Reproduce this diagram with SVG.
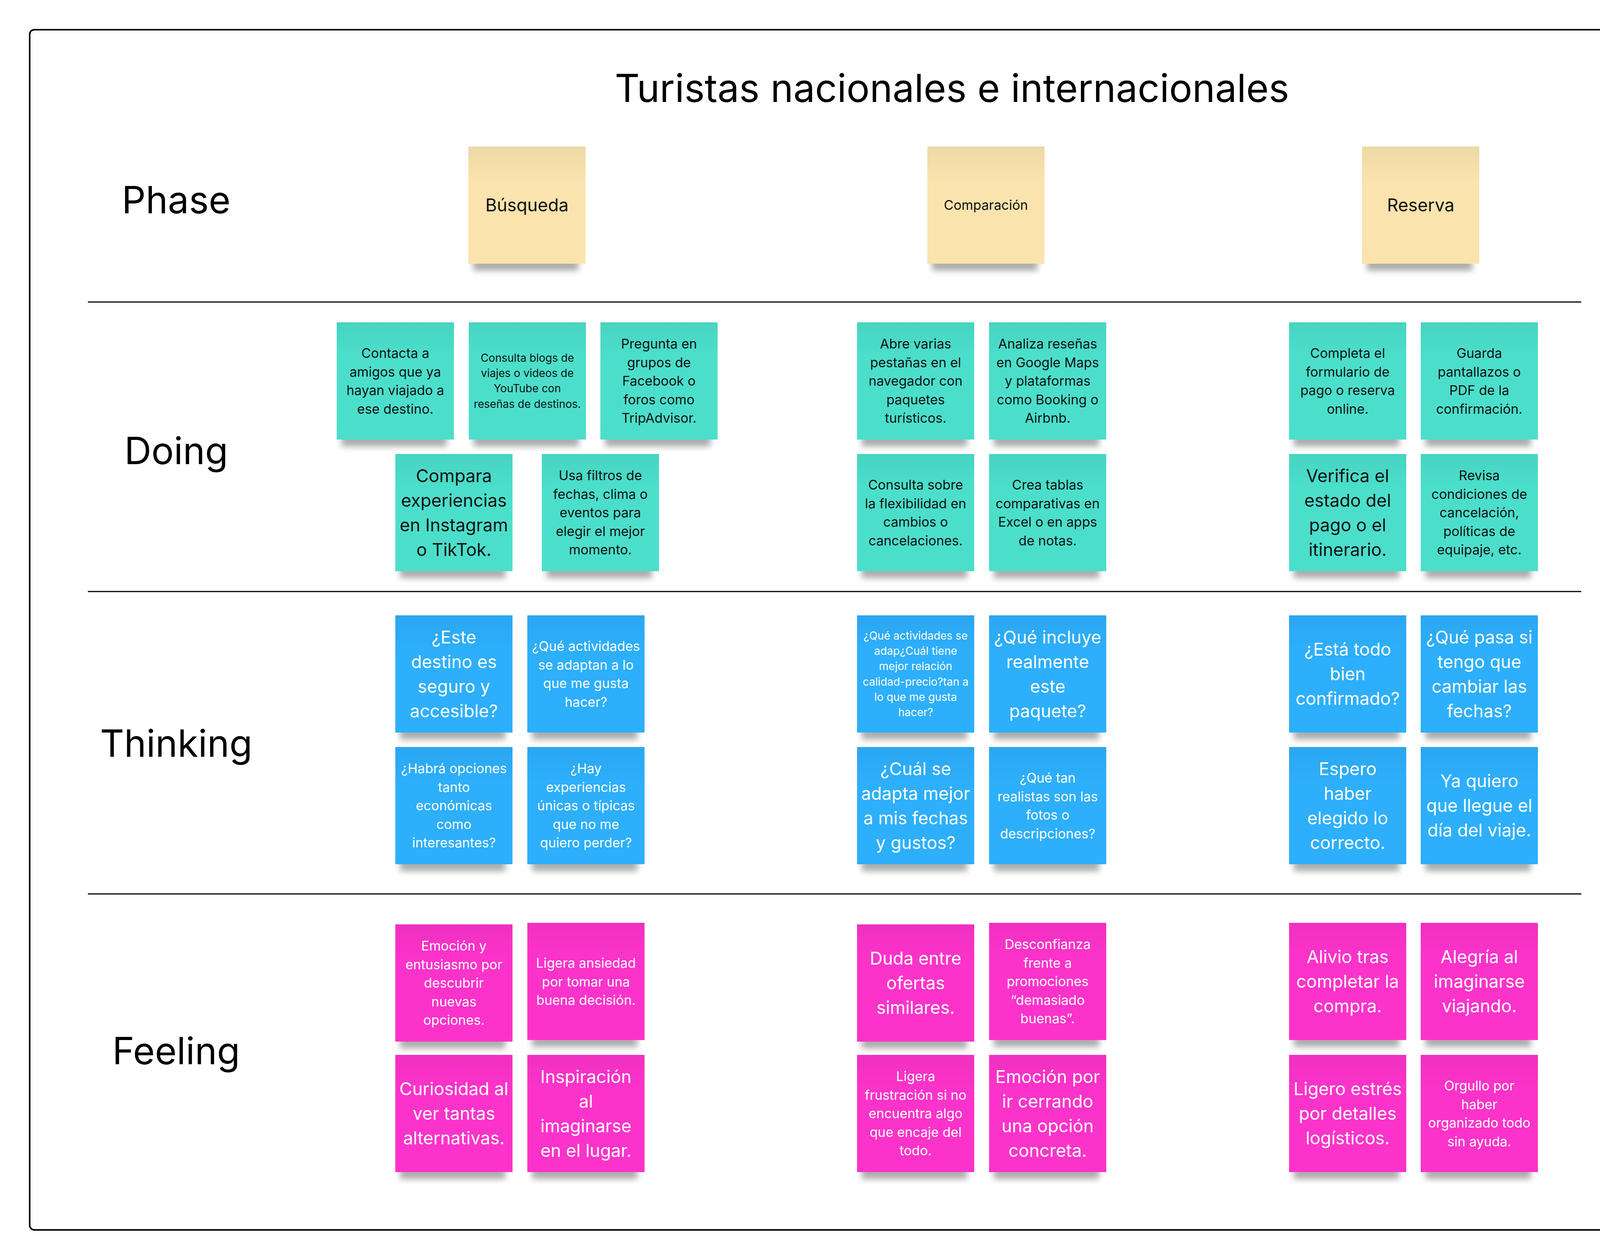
<svg xmlns="http://www.w3.org/2000/svg" width="4275" height="3225" viewBox="0 0 4275 3225">
<defs>
<filter id="sb" x="-20%" y="-100%" width="140%" height="300%"><feGaussianBlur stdDeviation="8"/></filter>
<linearGradient id="tint" x1="0" y1="0" x2="0" y2="1">
<stop offset="0" stop-color="#000" stop-opacity="0.05"/>
<stop offset="0.3" stop-color="#000" stop-opacity="0"/>
</linearGradient>
<style>
text{font-family:Inter,"Noto Sans","Liberation Sans",sans-serif;text-anchor:middle}
.frame{fill:#fff;stroke:#000;stroke-width:4}
.sep{stroke:#000;stroke-width:3}
.title{font-size:99px;fill:#000}
.lab{font-size:96px;fill:#000}
.sh{fill:#000;opacity:.32;filter:url(#sb)}
.tn{fill:url(#tint)}
.y{fill:#FAE3AD}
.t{fill:#4BDFCB}
.b{fill:#2DAFFC}
.p{fill:#FC33CA}
.k{fill:#111}
.w{fill:#fff}
.f45{font-size:45px}
.f34{font-size:34px}
.f28{font-size:28px}
</style>
</defs>
<rect class="frame" x="76" y="76" width="4122" height="3072" rx="12"/>
<text class="title" x="2437" y="261">Turistas nacionales e internacionales</text>
<g id="row-labels">
<text class="lab" x="451" y="546">Phase</text>
<text class="lab" x="451" y="1188">Doing</text>
<text class="lab" x="451" y="1937">Thinking</text>
<text class="lab" x="451" y="2724">Feeling</text>
</g>
<g id="connectors">
<line class="sep" x1="225" y1="773" x2="4048" y2="773"/>
<line class="sep" x1="225" y1="1514" x2="4048" y2="1514"/>
<line class="sep" x1="225" y1="2288" x2="4048" y2="2288"/>
</g>

<!-- Phase -->
<g id="phase-busqueda"><rect class="sh" x="1211" y="653" width="270" height="40"/><rect class="y" x="1199" y="375" width="300" height="300"/><rect class="tn" x="1199" y="375" width="300" height="300"/><text class="k f45" x="1349" y="541">Búsqueda</text></g>
<g id="phase-comparacion"><rect class="sh" x="2386" y="653" width="270" height="40"/><rect class="y" x="2374" y="375" width="300" height="300"/><rect class="tn" x="2374" y="375" width="300" height="300"/><text class="k f34" x="2524" y="537">Comparación</text></g>
<g id="phase-reserva"><rect class="sh" x="3499" y="653" width="270" height="40"/><rect class="y" x="3487" y="375" width="300" height="300"/><rect class="tn" x="3487" y="375" width="300" height="300"/><text class="k f45" x="3637" y="541">Reserva</text></g>

<!-- Doing -->
<g id="doing-1"><rect class="sh" x="874" y="1103" width="270" height="40"/><rect class="t" x="862" y="825" width="300" height="300"/><rect class="tn" x="862" y="825" width="300" height="300"/><text class="k f34" y="916"><tspan x="1012">Contacta a</tspan><tspan x="1012" dy="47.6">amigos que ya</tspan><tspan x="1012" dy="47.6">hayan viajado a</tspan><tspan x="1012" dy="47.6">ese destino.</tspan></text></g>
<g id="doing-2"><rect class="sh" x="1212" y="1103" width="270" height="40"/><rect class="t" x="1200" y="825" width="300" height="300"/><rect class="tn" x="1200" y="825" width="300" height="300"/><text class="k f28" y="926"><tspan x="1350">Consulta blogs de</tspan><tspan x="1350" dy="39.2">viajes o videos de</tspan><tspan x="1350" dy="39.2">YouTube con</tspan><tspan x="1350" dy="39.2">reseñas de destinos.</tspan></text></g>
<g id="doing-3"><rect class="sh" x="1549" y="1103" width="270" height="40"/><rect class="t" x="1537" y="825" width="300" height="300"/><rect class="tn" x="1537" y="825" width="300" height="300"/><text class="k f34" y="892"><tspan x="1687">Pregunta en</tspan><tspan x="1687" dy="47.6">grupos de</tspan><tspan x="1687" dy="47.6">Facebook o</tspan><tspan x="1687" dy="47.6">foros como</tspan><tspan x="1687" dy="47.6">TripAdvisor.</tspan></text></g>
<g id="doing-4"><rect class="sh" x="1024" y="1440" width="270" height="40"/><rect class="t" x="1012" y="1162" width="300" height="300"/><rect class="tn" x="1012" y="1162" width="300" height="300"/><text class="k f45" y="1234"><tspan x="1162">Compara</tspan><tspan x="1162" dy="63">experiencias</tspan><tspan x="1162" dy="63">en Instagram</tspan><tspan x="1162" dy="63">o TikTok.</tspan></text></g>
<g id="doing-5"><rect class="sh" x="1399" y="1440" width="270" height="40"/><rect class="t" x="1387" y="1162" width="300" height="300"/><rect class="tn" x="1387" y="1162" width="300" height="300"/><text class="k f34" y="1229"><tspan x="1537">Usa filtros de</tspan><tspan x="1537" dy="47.6">fechas, clima o</tspan><tspan x="1537" dy="47.6">eventos para</tspan><tspan x="1537" dy="47.6">elegir el mejor</tspan><tspan x="1537" dy="47.6">momento.</tspan></text></g>
<g id="doing-6"><rect class="sh" x="2206" y="1103" width="270" height="40"/><rect class="t" x="2194" y="825" width="300" height="300"/><rect class="tn" x="2194" y="825" width="300" height="300"/><text class="k f34" y="892"><tspan x="2344">Abre varias</tspan><tspan x="2344" dy="47.6">pestañas en el</tspan><tspan x="2344" dy="47.6">navegador con</tspan><tspan x="2344" dy="47.6">paquetes</tspan><tspan x="2344" dy="47.6">turísticos.</tspan></text></g>
<g id="doing-7"><rect class="sh" x="2544" y="1103" width="270" height="40"/><rect class="t" x="2532" y="825" width="300" height="300"/><rect class="tn" x="2532" y="825" width="300" height="300"/><text class="k f34" y="892"><tspan x="2682">Analiza reseñas</tspan><tspan x="2682" dy="47.6">en Google Maps</tspan><tspan x="2682" dy="47.6">y plataformas</tspan><tspan x="2682" dy="47.6">como Booking o</tspan><tspan x="2682" dy="47.6">Airbnb.</tspan></text></g>
<g id="doing-8"><rect class="sh" x="2206" y="1440" width="270" height="40"/><rect class="t" x="2194" y="1162" width="300" height="300"/><rect class="tn" x="2194" y="1162" width="300" height="300"/><text class="k f34" y="1253"><tspan x="2344">Consulta sobre</tspan><tspan x="2344" dy="47.6">la flexibilidad en</tspan><tspan x="2344" dy="47.6">cambios o</tspan><tspan x="2344" dy="47.6">cancelaciones.</tspan></text></g>
<g id="doing-9"><rect class="sh" x="2544" y="1440" width="270" height="40"/><rect class="t" x="2532" y="1162" width="300" height="300"/><rect class="tn" x="2532" y="1162" width="300" height="300"/><text class="k f34" y="1253"><tspan x="2682">Crea tablas</tspan><tspan x="2682" dy="47.6">comparativas en</tspan><tspan x="2682" dy="47.6">Excel o en apps</tspan><tspan x="2682" dy="47.6">de notas.</tspan></text></g>
<g id="doing-10"><rect class="sh" x="3312" y="1103" width="270" height="40"/><rect class="t" x="3300" y="825" width="300" height="300"/><rect class="tn" x="3300" y="825" width="300" height="300"/><text class="k f34" y="916"><tspan x="3450">Completa el</tspan><tspan x="3450" dy="47.6">formulario de</tspan><tspan x="3450" dy="47.6">pago o reserva</tspan><tspan x="3450" dy="47.6">online.</tspan></text></g>
<g id="doing-11"><rect class="sh" x="3649" y="1103" width="270" height="40"/><rect class="t" x="3637" y="825" width="300" height="300"/><rect class="tn" x="3637" y="825" width="300" height="300"/><text class="k f34" y="916"><tspan x="3787">Guarda</tspan><tspan x="3787" dy="47.6">pantallazos o</tspan><tspan x="3787" dy="47.6">PDF de la</tspan><tspan x="3787" dy="47.6">confirmación.</tspan></text></g>
<g id="doing-12"><rect class="sh" x="3312" y="1440" width="270" height="40"/><rect class="t" x="3300" y="1162" width="300" height="300"/><rect class="tn" x="3300" y="1162" width="300" height="300"/><text class="k f45" y="1234"><tspan x="3450">Verifica el</tspan><tspan x="3450" dy="63">estado del</tspan><tspan x="3450" dy="63">pago o el</tspan><tspan x="3450" dy="63">itinerario.</tspan></text></g>
<g id="doing-13"><rect class="sh" x="3649" y="1440" width="270" height="40"/><rect class="t" x="3637" y="1162" width="300" height="300"/><rect class="tn" x="3637" y="1162" width="300" height="300"/><text class="k f34" y="1229"><tspan x="3787">Revisa</tspan><tspan x="3787" dy="47.6">condiciones de</tspan><tspan x="3787" dy="47.6">cancelación,</tspan><tspan x="3787" dy="47.6">políticas de</tspan><tspan x="3787" dy="47.6">equipaje, etc.</tspan></text></g>

<!-- Thinking -->
<g id="thinking-1"><rect class="sh" x="1024" y="1853" width="270" height="40"/><rect class="b" x="1012" y="1575" width="300" height="300"/><rect class="tn" x="1012" y="1575" width="300" height="300"/><text class="w f45" y="1647"><tspan x="1162">¿Este</tspan><tspan x="1162" dy="63">destino es</tspan><tspan x="1162" dy="63">seguro y</tspan><tspan x="1162" dy="63">accesible?</tspan></text></g>
<g id="thinking-2"><rect class="sh" x="1362" y="1853" width="270" height="40"/><rect class="b" x="1350" y="1575" width="300" height="300"/><rect class="tn" x="1350" y="1575" width="300" height="300"/><text class="w f34" y="1666"><tspan x="1500">¿Qué actividades</tspan><tspan x="1500" dy="47.6">se adaptan a lo</tspan><tspan x="1500" dy="47.6">que me gusta</tspan><tspan x="1500" dy="47.6">hacer?</tspan></text></g>
<g id="thinking-3"><rect class="sh" x="1024" y="2190" width="270" height="40"/><rect class="b" x="1012" y="1912" width="300" height="300"/><rect class="tn" x="1012" y="1912" width="300" height="300"/><text class="w f34" y="1979"><tspan x="1162">¿Habrá opciones</tspan><tspan x="1162" dy="47.6">tanto</tspan><tspan x="1162" dy="47.6">económicas</tspan><tspan x="1162" dy="47.6">como</tspan><tspan x="1162" dy="47.6">interesantes?</tspan></text></g>
<g id="thinking-4"><rect class="sh" x="1362" y="2190" width="270" height="40"/><rect class="b" x="1350" y="1912" width="300" height="300"/><rect class="tn" x="1350" y="1912" width="300" height="300"/><text class="w f34" y="1979"><tspan x="1500">¿Hay</tspan><tspan x="1500" dy="47.6">experiencias</tspan><tspan x="1500" dy="47.6">únicas o típicas</tspan><tspan x="1500" dy="47.6">que no me</tspan><tspan x="1500" dy="47.6">quiero perder?</tspan></text></g>
<g id="thinking-5"><rect class="sh" x="2206" y="1853" width="270" height="40"/><rect class="b" x="2194" y="1575" width="300" height="300"/><rect class="tn" x="2194" y="1575" width="300" height="300"/><text class="w f28" y="1637"><tspan x="2344">¿Qué actividades se</tspan><tspan x="2344" dy="39.2">adap¿Cuál tiene</tspan><tspan x="2344" dy="39.2">mejor relación</tspan><tspan x="2344" dy="39.2">calidad-precio?tan a</tspan><tspan x="2344" dy="39.2">lo que me gusta</tspan><tspan x="2344" dy="39.2">hacer?</tspan></text></g>
<g id="thinking-6"><rect class="sh" x="2544" y="1853" width="270" height="40"/><rect class="b" x="2532" y="1575" width="300" height="300"/><rect class="tn" x="2532" y="1575" width="300" height="300"/><text class="w f45" y="1647"><tspan x="2682">¿Qué incluye</tspan><tspan x="2682" dy="63">realmente</tspan><tspan x="2682" dy="63">este</tspan><tspan x="2682" dy="63">paquete?</tspan></text></g>
<g id="thinking-7"><rect class="sh" x="2206" y="2190" width="270" height="40"/><rect class="b" x="2194" y="1912" width="300" height="300"/><rect class="tn" x="2194" y="1912" width="300" height="300"/><text class="w f45" y="1984"><tspan x="2344">¿Cuál se</tspan><tspan x="2344" dy="63">adapta mejor</tspan><tspan x="2344" dy="63">a mis fechas</tspan><tspan x="2344" dy="63">y gustos?</tspan></text></g>
<g id="thinking-8"><rect class="sh" x="2544" y="2190" width="270" height="40"/><rect class="b" x="2532" y="1912" width="300" height="300"/><rect class="tn" x="2532" y="1912" width="300" height="300"/><text class="w f34" y="2003"><tspan x="2682">¿Qué tan</tspan><tspan x="2682" dy="47.6">realistas son las</tspan><tspan x="2682" dy="47.6">fotos o</tspan><tspan x="2682" dy="47.6">descripciones?</tspan></text></g>
<g id="thinking-9"><rect class="sh" x="3312" y="1853" width="270" height="40"/><rect class="b" x="3300" y="1575" width="300" height="300"/><rect class="tn" x="3300" y="1575" width="300" height="300"/><text class="w f45" y="1678"><tspan x="3450">¿Está todo</tspan><tspan x="3450" dy="63">bien</tspan><tspan x="3450" dy="63">confirmado?</tspan></text></g>
<g id="thinking-10"><rect class="sh" x="3649" y="1853" width="270" height="40"/><rect class="b" x="3637" y="1575" width="300" height="300"/><rect class="tn" x="3637" y="1575" width="300" height="300"/><text class="w f45" y="1647"><tspan x="3787">¿Qué pasa si</tspan><tspan x="3787" dy="63">tengo que</tspan><tspan x="3787" dy="63">cambiar las</tspan><tspan x="3787" dy="63">fechas?</tspan></text></g>
<g id="thinking-11"><rect class="sh" x="3312" y="2190" width="270" height="40"/><rect class="b" x="3300" y="1912" width="300" height="300"/><rect class="tn" x="3300" y="1912" width="300" height="300"/><text class="w f45" y="1984"><tspan x="3450">Espero</tspan><tspan x="3450" dy="63">haber</tspan><tspan x="3450" dy="63">elegido lo</tspan><tspan x="3450" dy="63">correcto.</tspan></text></g>
<g id="thinking-12"><rect class="sh" x="3649" y="2190" width="270" height="40"/><rect class="b" x="3637" y="1912" width="300" height="300"/><rect class="tn" x="3637" y="1912" width="300" height="300"/><text class="w f45" y="2015"><tspan x="3787">Ya quiero</tspan><tspan x="3787" dy="63">que llegue el</tspan><tspan x="3787" dy="63">día del viaje.</tspan></text></g>

<!-- Feeling -->
<g id="feeling-1"><rect class="sh" x="1024" y="2644" width="270" height="40"/><rect class="p" x="1012" y="2366" width="300" height="300"/><rect class="tn" x="1012" y="2366" width="300" height="300"/><text class="w f34" y="2433"><tspan x="1162">Emoción y</tspan><tspan x="1162" dy="47.6">entusiasmo por</tspan><tspan x="1162" dy="47.6">descubrir</tspan><tspan x="1162" dy="47.6">nuevas</tspan><tspan x="1162" dy="47.6">opciones.</tspan></text></g>
<g id="feeling-2"><rect class="sh" x="1362" y="2640" width="270" height="40"/><rect class="p" x="1350" y="2362" width="300" height="300"/><rect class="tn" x="1350" y="2362" width="300" height="300"/><text class="w f34" y="2477"><tspan x="1500">Ligera ansiedad</tspan><tspan x="1500" dy="47.6">por tomar una</tspan><tspan x="1500" dy="47.6">buena decisión.</tspan></text></g>
<g id="feeling-3"><rect class="sh" x="1024" y="2978" width="270" height="40"/><rect class="p" x="1012" y="2700" width="300" height="300"/><rect class="tn" x="1012" y="2700" width="300" height="300"/><text class="w f45" y="2803"><tspan x="1162">Curiosidad al</tspan><tspan x="1162" dy="63">ver tantas</tspan><tspan x="1162" dy="63">alternativas.</tspan></text></g>
<g id="feeling-4"><rect class="sh" x="1362" y="2978" width="270" height="40"/><rect class="p" x="1350" y="2700" width="300" height="300"/><rect class="tn" x="1350" y="2700" width="300" height="300"/><text class="w f45" y="2772"><tspan x="1500">Inspiración</tspan><tspan x="1500" dy="63">al</tspan><tspan x="1500" dy="63">imaginarse</tspan><tspan x="1500" dy="63">en el lugar.</tspan></text></g>
<g id="feeling-5"><rect class="sh" x="2206" y="2644" width="270" height="40"/><rect class="p" x="2194" y="2366" width="300" height="300"/><rect class="tn" x="2194" y="2366" width="300" height="300"/><text class="w f45" y="2469"><tspan x="2344">Duda entre</tspan><tspan x="2344" dy="63">ofertas</tspan><tspan x="2344" dy="63">similares.</tspan></text></g>
<g id="feeling-6"><rect class="sh" x="2544" y="2640" width="270" height="40"/><rect class="p" x="2532" y="2362" width="300" height="300"/><rect class="tn" x="2532" y="2362" width="300" height="300"/><text class="w f34" y="2429"><tspan x="2682">Desconfianza</tspan><tspan x="2682" dy="47.6">frente a</tspan><tspan x="2682" dy="47.6">promociones</tspan><tspan x="2682" dy="47.6">“demasiado</tspan><tspan x="2682" dy="47.6">buenas”.</tspan></text></g>
<g id="feeling-7"><rect class="sh" x="2206" y="2978" width="270" height="40"/><rect class="p" x="2194" y="2700" width="300" height="300"/><rect class="tn" x="2194" y="2700" width="300" height="300"/><text class="w f34" y="2767"><tspan x="2344">Ligera</tspan><tspan x="2344" dy="47.6">frustración si no</tspan><tspan x="2344" dy="47.6">encuentra algo</tspan><tspan x="2344" dy="47.6">que encaje del</tspan><tspan x="2344" dy="47.6">todo.</tspan></text></g>
<g id="feeling-8"><rect class="sh" x="2544" y="2978" width="270" height="40"/><rect class="p" x="2532" y="2700" width="300" height="300"/><rect class="tn" x="2532" y="2700" width="300" height="300"/><text class="w f45" y="2772"><tspan x="2682">Emoción por</tspan><tspan x="2682" dy="63">ir cerrando</tspan><tspan x="2682" dy="63">una opción</tspan><tspan x="2682" dy="63">concreta.</tspan></text></g>
<g id="feeling-9"><rect class="sh" x="3312" y="2640" width="270" height="40"/><rect class="p" x="3300" y="2362" width="300" height="300"/><rect class="tn" x="3300" y="2362" width="300" height="300"/><text class="w f45" y="2465"><tspan x="3450">Alivio tras</tspan><tspan x="3450" dy="63">completar la</tspan><tspan x="3450" dy="63">compra.</tspan></text></g>
<g id="feeling-10"><rect class="sh" x="3649" y="2640" width="270" height="40"/><rect class="p" x="3637" y="2362" width="300" height="300"/><rect class="tn" x="3637" y="2362" width="300" height="300"/><text class="w f45" y="2465"><tspan x="3787">Alegría al</tspan><tspan x="3787" dy="63">imaginarse</tspan><tspan x="3787" dy="63">viajando.</tspan></text></g>
<g id="feeling-11"><rect class="sh" x="3312" y="2978" width="270" height="40"/><rect class="p" x="3300" y="2700" width="300" height="300"/><rect class="tn" x="3300" y="2700" width="300" height="300"/><text class="w f45" y="2803"><tspan x="3450">Ligero estrés</tspan><tspan x="3450" dy="63">por detalles</tspan><tspan x="3450" dy="63">logísticos.</tspan></text></g>
<g id="feeling-12"><rect class="sh" x="3649" y="2978" width="270" height="40"/><rect class="p" x="3637" y="2700" width="300" height="300"/><rect class="tn" x="3637" y="2700" width="300" height="300"/><text class="w f34" y="2791"><tspan x="3787">Orgullo por</tspan><tspan x="3787" dy="47.6">haber</tspan><tspan x="3787" dy="47.6">organizado todo</tspan><tspan x="3787" dy="47.6">sin ayuda.</tspan></text></g>
</svg>
